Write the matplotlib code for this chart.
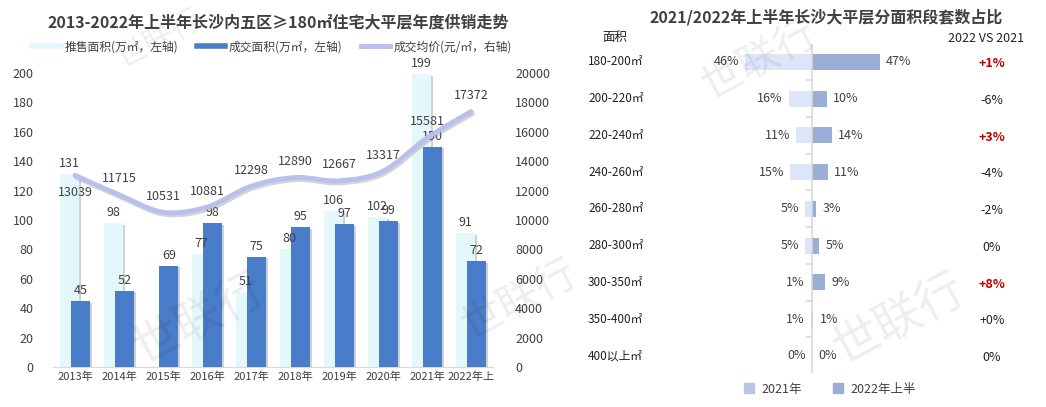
import numpy as np
import matplotlib
matplotlib.use('Agg')
import matplotlib.pyplot as plt
from matplotlib.path import Path
from matplotlib.patches import PathPatch, Patch
from matplotlib.lines import Line2D
import matplotlib.patheffects as pe

plt.rcParams['font.family'] = ['Noto Sans CJK SC', 'DejaVu Sans']

# left chart data
years = ['2013年', '2014年', '2015年', '2016年', '2017年', '2018年', '2019年', '2020年', '2021年', '2022年上']
supply = [131, 98, np.nan, 77, 51, 80, 106, 102, 199, 91]
deal = [45, 52, 69, 98, 75, 95, 97, 99, 150, 72]
price = [13039, 11715, 10531, 10881, 12298, 12890, 12667, 13317, 15581, 17372]

# right chart data
segments = ['180-200㎡', '200-220㎡', '220-240㎡', '240-260㎡', '260-280㎡',
            '280-300㎡', '300-350㎡', '350-400㎡', '400以上㎡']
share_2021 = [46, 16, 11, 15, 5, 5, 1, 1, 0]
share_2022 = [47, 10, 14, 11, 3, 5, 9, 1, 0]
diff_labels = ['+1%', '-6%', '+3%', '-4%', '-2%', '0%', '+8%', '+0%', '0%']

TXT = '#404040'
C_SUP = '#e4f8fc'
C_DEAL = '#4a7dc9'
C_LINE = '#b9c0ee'
C_21 = '#dfe5f8'
C_22 = '#9aaed6'

W, H = 1046, 407
fig = plt.figure(figsize=(W / 100, H / 100), dpi=100)

def fx(px):
    return px / W

def fy(py):
    return 1 - py / H

# watermarks
for (x, y, s) in [(200, 320, 34), (520, 300, 30), (900, 320, 34), (160, 40, 22), (760, 60, 30)]:
    fig.text(fx(x), fy(y), '世联行', fontsize=s, rotation=28, color='#000000', alpha=0.07,
             ha='center', va='center', zorder=0)

# ---- left chart ----
ax = fig.add_axes([fx(53), fy(367), fx(440), 294 / H])
x = np.arange(len(years))
shadow = [pe.withSimplePatchShadow(offset=(1.2, -1.2), shadow_rgbFace='#999999', alpha=0.45)]
b1 = ax.bar(x - 0.12, supply, width=0.44, color=C_SUP, zorder=2, path_effects=shadow)
b2 = ax.bar(x + 0.13, deal, width=0.44, color=C_DEAL, zorder=3, path_effects=shadow)
ax.set_xlim(-0.5, len(years) - 0.5)
ax.set_ylim(0, 200)
ax.set_yticks(range(0, 201, 20))
ax.set_xticks(x)
ax.set_xticklabels(years, fontsize=8, color=TXT)
ax.tick_params(axis='y', length=0, pad=14, labelsize=9, labelcolor=TXT)
ax.tick_params(axis='x', length=0, pad=3)
for s in ['top', 'left', 'right']:
    ax.spines[s].set_visible(False)
ax.spines['bottom'].set_color('#d9d9d9')

for xi, v in zip(x, supply):
    if not np.isnan(v):
        ax.annotate(f'{v:g}', (xi - 0.12, v), xytext=(0, 4), textcoords='offset pixels',
                    ha='center', va='bottom', fontsize=9, color=TXT, zorder=5)
for xi, v in zip(x, deal):
    ax.annotate(f'{v:g}', (xi + 0.13, v), xytext=(0, 4), textcoords='offset pixels',
                ha='center', va='bottom', fontsize=9, color=TXT, zorder=5)

axr = ax.twinx()
axr.set_ylim(0, 20000)
axr.set_yticks(range(0, 20001, 2000))
axr.tick_params(axis='y', length=0, pad=16, labelsize=9, labelcolor=TXT)
for s in ['top', 'left', 'right', 'bottom']:
    axr.spines[s].set_visible(False)

# smooth line through price points (Catmull-Rom as cubic Bezier)
pts = np.column_stack([x, price]).astype(float)
ext = np.vstack([pts[0], pts, pts[-1]])
verts = [tuple(pts[0])]
codes = [Path.MOVETO]
for i in range(len(pts) - 1):
    p0, p1, p2, p3 = ext[i], ext[i + 1], ext[i + 2], ext[i + 3]
    c1 = p1 + (p2 - p0) / 6
    c2 = p2 - (p3 - p1) / 6
    verts += [tuple(c1), tuple(c2), tuple(p2)]
    codes += [Path.CURVE4] * 3
line = PathPatch(Path(verts, codes), facecolor='none', edgecolor=C_LINE, lw=3.5,
                 capstyle='round', zorder=4,
                 path_effects=[pe.SimpleLineShadow(offset=(1, -1.5), shadow_color='#888888', alpha=0.35),
                               pe.Normal()])
axr.add_patch(line)
price_dy = [-17, 16, 16, 16, 16, 16, 16, 16, 16, 16]
for xi, v, dy in zip(x, price, price_dy):
    axr.annotate(f'{v}', (xi, v), xytext=(0, dy), textcoords='offset pixels',
                 ha='center', va='center', fontsize=9, color=TXT, zorder=6)

fig.text(fx(278), fy(22), '2013-2022年上半年长沙内五区≥180㎡住宅大平层年度供销走势',
         ha='center', va='center', fontsize=11.5, fontweight='bold', color=TXT)
handles = [Line2D([], [], color=C_SUP, lw=4), Line2D([], [], color=C_DEAL, lw=4),
           Line2D([], [], color=C_LINE, lw=3.5)]
fig.legend(handles, ['推售面积(万㎡，左轴)', '成交面积(万㎡，左轴)', '成交均价(元/㎡，右轴)'],
           loc='center', bbox_to_anchor=(fx(272), fy(47)), ncol=3, frameon=False,
           fontsize=8.5, handlelength=2.4, handletextpad=0.3, columnspacing=1.6,
           labelcolor=TXT)

# ---- right chart ----
ax2 = fig.add_axes([fx(700), fy(372), fx(230), 327 / H])
rows = np.arange(len(segments))
ax2.barh(rows, [-v for v in share_2021], height=0.43, color=C_21, zorder=2)
ax2.barh(rows, share_2022, height=0.43, color=C_22, zorder=2)
ax2.set_xlim((700 - 812) / 1.45, (930 - 812) / 1.45)
ax2.set_ylim(8.44, -0.46)
for s in ['top', 'right', 'bottom']:
    ax2.spines[s].set_visible(False)
ax2.spines['left'].set_position(('data', 0))
ax2.spines['left'].set_color('#d9d9d9')
ax2.spines['left'].set_linewidth(1.2)
ax2.set_yticks(rows[:-1] + 0.5)
ax2.set_yticklabels([])
ax2.tick_params(axis='y', length=4, color='#d9d9d9', width=1.2)
ax2.set_xticks([])

for r, v in zip(rows, share_2021):
    ax2.annotate(f'{v}%', (-v, r), xytext=(-6, 0), textcoords='offset pixels',
                 ha='right', va='center', fontsize=9, color=TXT)
for r, v in zip(rows, share_2022):
    ax2.annotate(f'{v}%', (v, r), xytext=(6, 0), textcoords='offset pixels',
                 ha='left', va='center', fontsize=9, color=TXT)

ytr = ax2.get_yaxis_transform()
for r, lab in zip(rows, segments):
    ax2.text((588 - 700) / 230, r, lab, transform=ytr, ha='left', va='center',
             fontsize=8.5, color='#202020')
for r, lab in zip(rows, diff_labels):
    pos = lab.startswith('+') and lab != '+0%'
    ax2.text((992 - 700) / 230, r + 0.05, lab, transform=ytr, ha='center', va='center',
             fontsize=9, color='#c00000' if pos else '#202020',
             fontweight='bold' if pos else 'normal')

fig.text(fx(826), fy(17), '2021/2022年上半年长沙大平层分面积段套数占比',
         ha='center', va='center', fontsize=11.5, fontweight='bold', color=TXT)
fig.text(fx(602), fy(38), '面积', ha='left', va='center', fontsize=9, color='#202020')
fig.text(fx(986), fy(38), '2022 VS 2021', ha='center', va='center', fontsize=9, color='#202020')
fig.legend([Patch(color='#b9c4ea'), Patch(color=C_22)], ['2021年', '2022年上半'],
           loc='center', bbox_to_anchor=(fx(830), fy(389)), ncol=2, frameon=False,
           fontsize=9, handlelength=0.8, handleheight=0.8, handletextpad=0.6,
           columnspacing=2.5, labelcolor=TXT)

fig.savefig('out.png', dpi=100)
